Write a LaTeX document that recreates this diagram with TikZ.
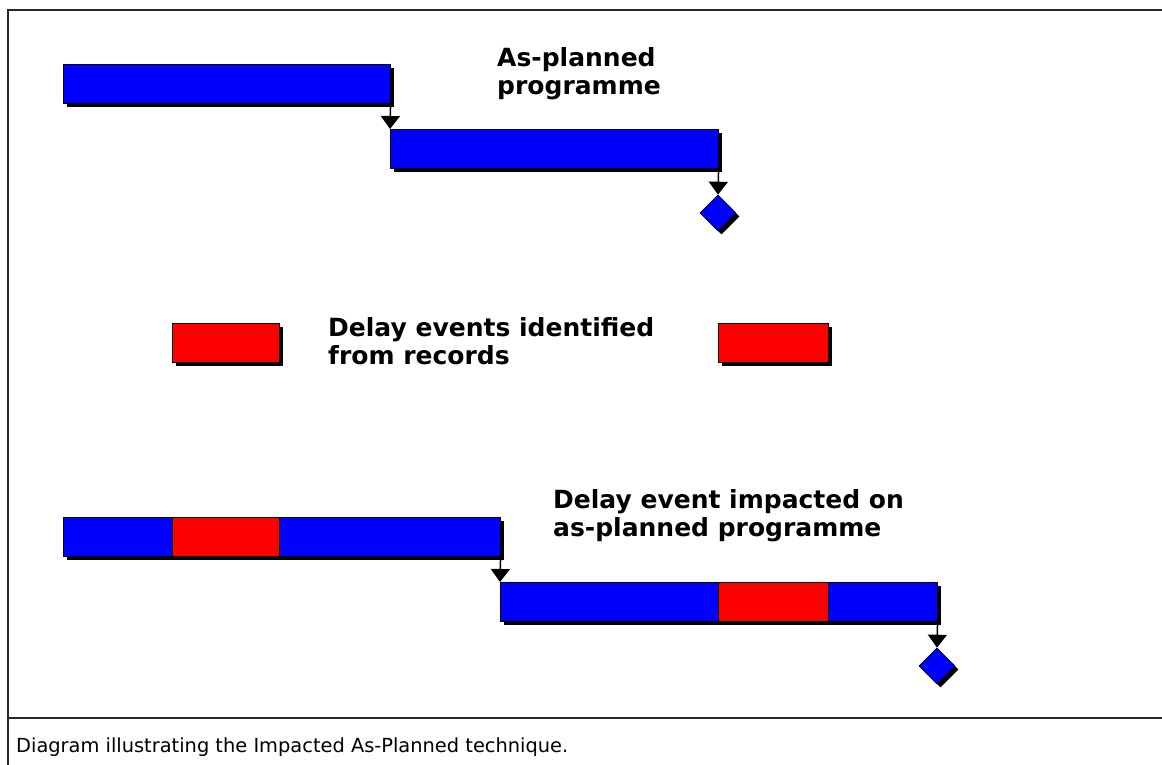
\documentclass[tikz,border=0pt]{standalone}
\usepackage{fontspec}
\setmainfont{DejaVu Sans}
\usetikzlibrary{arrows.meta}
\usetikzlibrary{shapes.geometric}
\usetikzlibrary{shadows}

\tikzset{
  shade3/.style={drop shadow={shadow xshift=3.5pt, shadow yshift=-3.5pt, fill=black, opacity=1}},
  task/.style={draw=black, line width=0.6pt, fill=blue, inner sep=0pt, anchor=north west,
               minimum height=39pt, shade3},
  delay/.style={draw=black, line width=0.6pt, fill=red, inner sep=0pt, anchor=north west,
               minimum height=39pt, minimum width=107pt},
  milestone/.style={diamond, draw=black, line width=0.6pt, fill=blue, inner sep=0pt,
               minimum size=36pt, shade3},
  link/.style={line width=1.5pt, -{Triangle[width=19pt,length=13pt]}},
  note/.style={anchor=west, align=left, inner sep=0pt, font=\bfseries\fontsize{25}{28}\selectfont},
  frame/.style={line width=2.5pt, black!85}
}

\begin{document}
\begin{tikzpicture}[x=1pt, y=-1pt]
\useasboundingbox (0,0) rectangle (1162,765);
% frame and caption
\draw[frame] (8,765) -- (8,10) -- (1162,10);
\draw[frame] (8,718) -- (1162,718);
\node[anchor=west, inner sep=0pt, font=\fontsize{19.4}{22}\selectfont] (caption) at (16,747) {Diagram illustrating the Impacted As-Planned technique.};

% as-planned programme
\node[task, minimum width=327pt] (bar1) at (63,64) {};
\node[task, minimum width=328pt] (bar2) at (390,129) {};
\node[milestone] (ms1) at (718,213) {};
\draw[link] (bar1.south east) -- (bar2.north west);
\draw[link] (bar2.south east) -- (ms1.north);
\node[note] (lbl1) at (497,74) {As-planned\\programme};

% delay events
\node[delay, shade3] (ev1) at (172,323) {};
\node[delay, shade3, minimum width=110pt] (ev2) at (718,323) {};
\node[note] (lbl2) at (328,341) {Delay events identified\\from records};

% impacted programme
\node[task, minimum width=437pt] (bar3) at (63,517) {};
\node[delay] (ev3) at (172,517) {};
\node[task, minimum width=437pt] (bar4) at (500,582) {};
\node[delay, minimum width=110pt] (ev4) at (718,582) {};
\node[milestone] (ms2) at (937,666) {};
\draw[link] (bar3.south east) -- (bar4.north west);
\draw[link] (bar4.south east) -- (ms2.north);
\node[note] (lbl3) at (553,516) {Delay event impacted on\\as-planned programme};
\end{tikzpicture}
\end{document}
